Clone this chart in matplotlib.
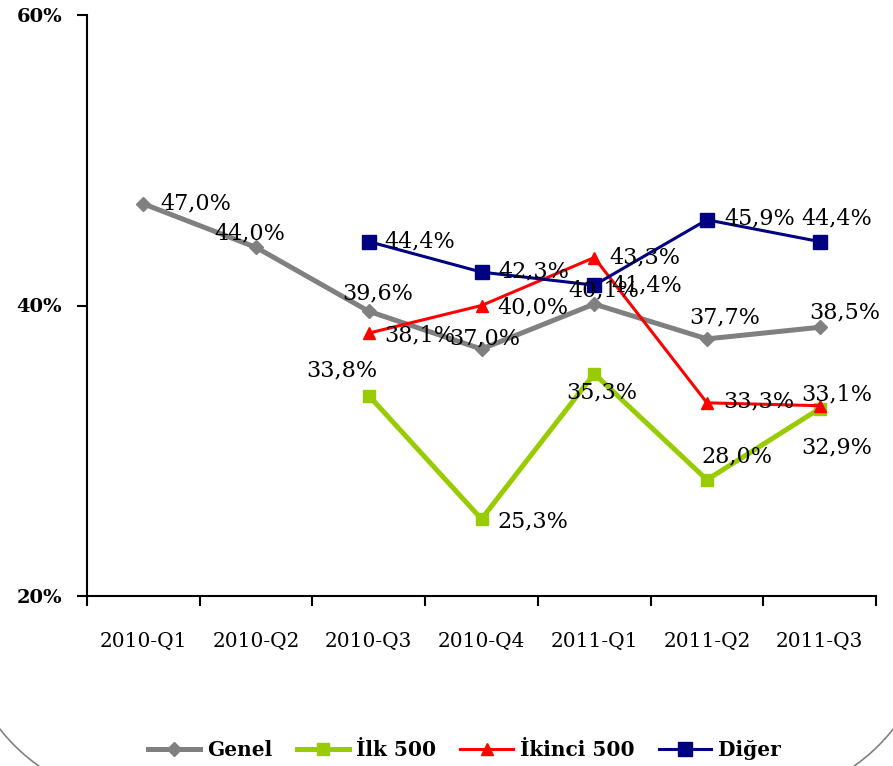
import matplotlib.pyplot as plt
from matplotlib.patches import Arc

quarters = ['2010-Q1', '2010-Q2', '2010-Q3', '2010-Q4', '2011-Q1', '2011-Q2', '2011-Q3']
genel = [47.0, 44.0, 39.6, 37.0, 40.1, 37.7, 38.5]
ilk500 = [None, None, 33.8, 25.3, 35.3, 28.0, 32.9]
ikinci500 = [None, None, 38.1, 40.0, 43.3, 33.3, 33.1]
diger = [None, None, 44.4, 42.3, 41.4, 45.9, 44.4]

# label offsets in pixels (dx, dy) from each point
off_genel = [(52, 0), (-6, 14), (9, 18), (3, 11), (10, 14), (18, 21), (25, 15)]
off_ilk = [None, None, (-27, 25), (51, -2), (8, -19), (30, 23), (17, -39)]
off_ikinci = [None, None, (51, -2), (51, -2), (51, 0), (52, 1), (17, 11)]
off_diger = [None, None, (51, 0), (52, 1), (53, 0), (53, 1), (17, 23)]

serif = 'DejaVu Serif'
fig = plt.figure(figsize=(8.93, 7.66), dpi=100)

# overlay in pixel units for the rounded chart border (only lower corners show)
bg = fig.add_axes([0, 0, 1, 1])
bg.set_xlim(0, 893)
bg.set_ylim(766, 0)
bg.axis('off')
bg.add_patch(Arc((146, 614), 372, 372, theta1=90, theta2=180, color='#808080', lw=1.2))
bg.add_patch(Arc((747, 614), 372, 372, theta1=0, theta2=90, color='#808080', lw=1.2))

ax = fig.add_axes([87 / 893, 170 / 766, 789 / 893, 581 / 766])
ax.patch.set_alpha(0)

series = [
    ('Genel', genel, off_genel, '#808080', 'D', 7.5, 3.6),
    ('İlk 500', ilk500, off_ilk, '#99CC00', 's', 8, 3.6),
    ('İkinci 500', ikinci500, off_ikinci, '#FF0000', '^', 9, 2.2),
    ('Diğer', diger, off_diger, '#000080', 's', 9.5, 2.2),
]

for name, vals, offs, col, mk, ms, lw in series:
    xs = [i for i, v in enumerate(vals) if v is not None]
    ys = [v for v in vals if v is not None]
    ax.plot(xs, ys, color=col, lw=lw, marker=mk, ms=ms, label=name)

for name, vals, offs, col, mk, ms, lw in series:
    for i, v in enumerate(vals):
        if v is None:
            continue
        ax.annotate(f'{v:.1f}%'.replace('.', ','), (i, v), xytext=offs[i],
                    textcoords='offset pixels', ha='center', va='center',
                    fontsize=16, family=serif, zorder=10)

ax.set_xlim(-0.5, 6.5)
ax.set_ylim(20, 60)
ax.set_xticks(range(7))
ax.set_xticklabels(quarters, fontsize=14.5, family=serif)
ax.tick_params(axis='x', which='major', length=0, pad=26)
ax.set_xticks([i + 0.5 for i in range(-1, 7)], minor=True)
ax.tick_params(axis='x', which='minor', length=7, width=1.5, direction='out')
ax.set_yticks([20, 40, 60])
ax.set_yticklabels(['20%', '40%', '60%'], fontsize=14, family=serif, fontweight='bold')
ax.tick_params(axis='y', length=7, width=1.5, pad=11)
for s in ['top', 'right']:
    ax.spines[s].set_visible(False)
for s in ['left', 'bottom']:
    ax.spines[s].set_linewidth(1.5)

fig.legend(loc='center', bbox_to_anchor=(0.52, 0.021), ncol=4, frameon=False,
           handlelength=2.6, handletextpad=0.35, columnspacing=1.2,
           prop={'family': serif, 'weight': 'bold', 'size': 14.5})

fig.savefig('out.png', dpi=100)
